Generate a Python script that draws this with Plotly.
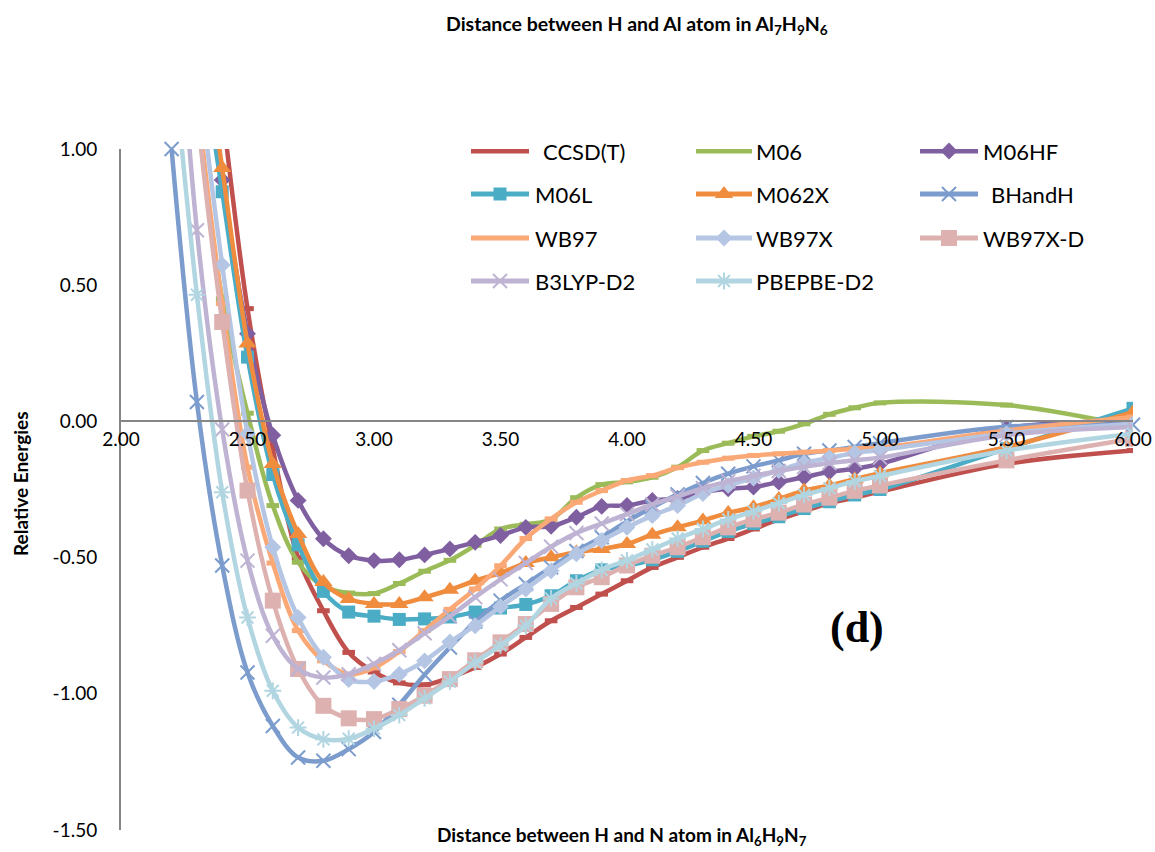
import plotly.graph_objects as go

# Interatomic distance grid (Å)
distance = [2.2, 2.3, 2.4, 2.5, 2.6, 2.7, 2.8, 2.9, 3.0, 3.1, 3.2, 3.3, 3.4, 3.5, 3.6,
            3.7, 3.8, 3.9, 4.0, 4.1, 4.2, 4.3, 4.4, 4.5, 4.6, 4.7, 4.8, 4.9, 5.0, 5.5, 6.0]

ccsdt = [3.2, 2.0, 1.15, 0.414, -0.10, -0.50, -0.695, -0.848, -0.92, -0.96, -0.967, -0.94,
         -0.903, -0.854, -0.793, -0.732, -0.683, -0.634, -0.585, -0.536, -0.499, -0.462,
         -0.43, -0.395, -0.36, -0.33, -0.30, -0.28, -0.258, -0.156, -0.107]
m06 = [2.2, 1.15, 0.45, 0.03, -0.309, -0.517, -0.605, -0.63, -0.632, -0.595, -0.55, -0.51,
       -0.455, -0.395, -0.378, -0.36, -0.28, -0.232, -0.222, -0.205, -0.168, -0.107, -0.08,
       -0.055, -0.036, -0.009, 0.026, 0.05, 0.068, 0.06, -0.02]
m06hf = [2.8, 1.6, 0.886, 0.322, -0.051, -0.29, -0.431, -0.493, -0.511, -0.508, -0.49,
         -0.468, -0.444, -0.419, -0.389, -0.385, -0.352, -0.312, -0.309, -0.29, -0.283,
         -0.26, -0.247, -0.241, -0.223, -0.205, -0.185, -0.174, -0.156, -0.025, 0.0]
m06l = [2.7, 1.5, 0.843, 0.236, -0.195, -0.453, -0.624, -0.70, -0.715, -0.727, -0.725,
        -0.718, -0.70, -0.685, -0.672, -0.64, -0.585, -0.545, -0.53, -0.508, -0.477, -0.44,
        -0.404, -0.375, -0.35, -0.32, -0.295, -0.27, -0.25, -0.10, 0.048]
m062x = [2.8, 1.6, 0.93, 0.286, -0.156, -0.413, -0.59, -0.652, -0.67, -0.67, -0.646,
         -0.618, -0.585, -0.556, -0.52, -0.499, -0.48, -0.468, -0.45, -0.416, -0.389,
         -0.364, -0.336, -0.315, -0.285, -0.254, -0.235, -0.212, -0.19, -0.094, 0.034]
bhandh = [1.0, 0.071, -0.529, -0.922, -1.118, -1.234, -1.246, -1.203, -1.14, -1.04, -0.93,
          -0.83, -0.735, -0.658, -0.597, -0.536, -0.476, -0.425, -0.367, -0.315, -0.268,
          -0.226, -0.192, -0.165, -0.143, -0.119, -0.107, -0.094, -0.08, -0.02, -0.012]
wb97 = [2.3, 1.2, 0.433, -0.168, -0.52, -0.768, -0.879, -0.928, -0.905, -0.845, -0.768,
        -0.69, -0.615, -0.53, -0.43, -0.358, -0.297, -0.254, -0.217, -0.199, -0.17, -0.15,
        -0.135, -0.125, -0.119, -0.113, -0.107, -0.10, -0.096, -0.033, 0.016]
wb97x = [2.5, 1.35, 0.574, -0.045, -0.462, -0.72, -0.866, -0.948, -0.955, -0.928, -0.879,
         -0.81, -0.75, -0.68, -0.615, -0.548, -0.486, -0.4375, -0.389, -0.346, -0.309,
         -0.265, -0.235, -0.208, -0.18, -0.152, -0.134, -0.116, -0.105, -0.045, -0.009]
wb97xd = [2.3, 1.15, 0.365, -0.254, -0.658, -0.909, -1.044, -1.09, -1.093, -1.056, -1.007,
          -0.946, -0.877, -0.811, -0.744, -0.67, -0.609, -0.572, -0.529, -0.493, -0.462,
          -0.425, -0.389, -0.36, -0.335, -0.305, -0.28, -0.255, -0.235, -0.143, -0.064]
b3lyp_d2 = [1.9, 0.702, -0.03, -0.511, -0.787, -0.909, -0.94, -0.928, -0.89, -0.84, -0.778,
            -0.716, -0.645, -0.58, -0.52, -0.46, -0.41, -0.375, -0.34, -0.305, -0.275,
            -0.245, -0.22, -0.20, -0.182, -0.167, -0.153, -0.143, -0.133, -0.051, -0.021]
pbepbe_d2 = [1.4, 0.465, -0.26, -0.72, -0.989, -1.124, -1.167, -1.165, -1.128, -1.078,
             -1.017, -0.955, -0.885, -0.822, -0.75, -0.65, -0.595, -0.545, -0.51, -0.47,
             -0.43, -0.395, -0.36, -0.33, -0.30, -0.27, -0.245, -0.22, -0.20, -0.107, -0.045]

method_names = ["CCSD(T)", "M06", "M06HF", "M06L", "M062X", "BHandH",
                "WB97", "WB97X", "WB97X-D", "B3LYP-D2", "PBEPBE-D2"]
energies = [ccsdt, m06, m06hf, m06l, m062x, bhandh, wb97, wb97x, wb97xd, b3lyp_d2, pbepbe_d2]

x_ticks = [2.0, 2.5, 3.0, 3.5, 4.0, 4.5, 5.0, 5.5, 6.0]
x_tick_labels = ["2.00", "2.50", "3.00", "3.50", "4.00", "4.50", "5.00", "5.50", "6.00"]
y_ticks = [-1.5, -1.0, -0.5, 0.0, 0.5, 1.0]
y_tick_labels = ["-1.50", "-1.00", "-0.50", "0.00", "0.50", "1.00"]

# Visual style per method: colour, marker symbol, marker size, marker outline width
styles = {
    "CCSD(T)":   ("#C0504D", "line-ew", 9, 5),
    "M06":       ("#9BBB59", "line-ew", 9, 5),
    "M06HF":     ("#7F5FA0", "diamond", 13, 0),
    "M06L":      ("#4BACC6", "square", 13, 0),
    "M062X":     ("#F08C3E", "triangle-up", 16, 0),
    "BHandH":    ("#7B9CCD", "x-thin", 14, 2),
    "WB97":      ("#FAA876", "line-ew", 9, 5),
    "WB97X":     ("#B4C6E3", "diamond", 13, 0),
    "WB97X-D":   ("#DDB1B0", "square", 16, 0),
    "B3LYP-D2":  ("#BEB3D2", "x-thin", 14, 2),
    "PBEPBE-D2": ("#B1D6E1", "asterisk", 14, 2),
}


def marker_for(name):
    color, symbol, size, lw = styles[name]
    if lw:
        return dict(symbol=symbol, size=size, color=color, line=dict(color=color, width=lw))
    return dict(symbol=symbol, size=size, color=color, line=dict(width=0))


fig = go.Figure()

for name, vals in zip(method_names, energies):
    color = styles[name][0]
    fig.add_trace(go.Scatter(
        x=distance, y=vals, mode="lines+markers", name=name,
        line=dict(color=color, width=4.5, shape="spline", smoothing=1.0),
        marker=marker_for(name), showlegend=False,
        cliponaxis=(name != "BHandH"),
    ))

# Legend block drawn on a pixel-scaled overlay axis pair
PL, PR, PT, PB = 121, 1133, 149, 830
legend_rows = [151, 194, 238, 281]
legend_cols = [(471, 529, 533), (696, 752, 754), (920, 978, 981)]
text_shift = {"CCSD(T)": 8, "BHandH": 8}
for i, name in enumerate(method_names):
    r, c = divmod(i, 3)
    x0, x1, tx = legend_cols[c]
    y = legend_rows[r]
    color = styles[name][0]
    fig.add_trace(go.Scatter(x=[x0, x1], y=[y, y], mode="lines", xaxis="x2", yaxis="y2",
                             line=dict(color=color, width=5), showlegend=False,
                             hoverinfo="skip", cliponaxis=False))
    if styles[name][1] != "line-ew":
        fig.add_trace(go.Scatter(x=[(x0 + x1) / 2], y=[y], mode="markers", xaxis="x2",
                                 yaxis="y2", marker=marker_for(name), showlegend=False,
                                 hoverinfo="skip", cliponaxis=False))
    fig.add_annotation(x=tx + text_shift.get(name, 0), y=y, xref="x2", yref="y2",
                       text=name, showarrow=False, xanchor="left", yanchor="middle",
                       font=dict(family="Lato", size=22, color="black"))

W, H = 1155, 852
pw, ph = PR - PL, PB - PT

fig.add_annotation(x=(637 - PL) / pw, y=(PB - 25) / ph, xref="paper", yref="paper",
                   text="Distance between H and Al atom in Al<sub>7</sub>H<sub>9</sub>N<sub>6</sub>",
                   showarrow=False, xanchor="center", yanchor="middle",
                   font=dict(family="Lato", size=19.5, color="black", weight="bold"))
fig.add_annotation(x=(622 - PL) / pw, y=(PB - 836) / ph, xref="paper", yref="paper",
                   text="Distance between H and N atom in Al<sub>6</sub>H<sub>9</sub>N<sub>7</sub>",
                   showarrow=False, xanchor="center", yanchor="middle",
                   font=dict(family="Lato", size=19, color="black", weight="bold"))
fig.add_annotation(x=(20 - PL) / pw, y=(PB - 484) / ph, xref="paper", yref="paper",
                   text="Relative Energies", textangle=-90,
                   showarrow=False, xanchor="center", yanchor="middle",
                   font=dict(family="Lato", size=19, color="black", weight="bold"))
fig.add_annotation(x=(857 - PL) / pw, y=(PB - 627) / ph, xref="paper", yref="paper",
                   text="(d)", showarrow=False, xanchor="center", yanchor="middle",
                   font=dict(family="Liberation Serif", size=44, color="black", weight="bold"))

fig.update_layout(
    width=W, height=H,
    margin=dict(l=PL, r=W - PR, t=PT, b=H - PB, autoexpand=False),
    paper_bgcolor="white", plot_bgcolor="white",
    showlegend=False,
    xaxis=dict(range=[2, 6], tickvals=x_ticks, ticktext=x_tick_labels,
               showline=True, linecolor="#868686", linewidth=2, showgrid=False,
               zeroline=False, ticks="", anchor="free", position=0.6, automargin=False,
               tickfont=dict(family="Lato", size=19, color="black"), ticklabelstandoff=1),
    yaxis=dict(range=[-1.5, 1], tickvals=y_ticks, ticktext=y_tick_labels,
               showline=True, linecolor="#868686", linewidth=2, showgrid=False,
               zeroline=False, ticks="", automargin=False,
               tickfont=dict(family="Lato", size=19, color="black"), ticklabelstandoff=18),
    xaxis2=dict(range=[PL, PR], overlaying="x", visible=False, domain=[0, 1]),
    yaxis2=dict(range=[PB, PT], overlaying="y", visible=False, domain=[0, 1]),
)

fig.write_html("out.html")
